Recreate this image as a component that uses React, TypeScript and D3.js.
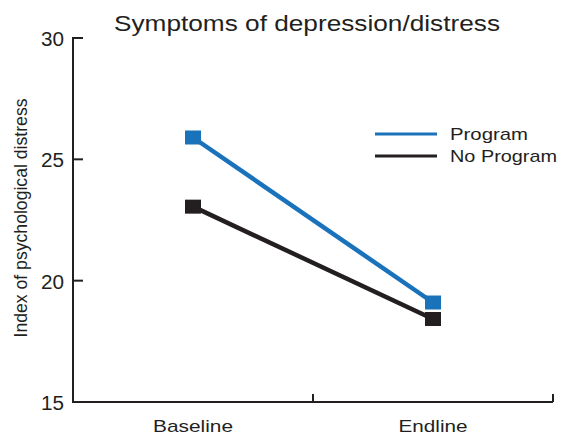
import React from "react";
import * as d3 from "d3";

const PERIODS = ["Baseline", "Endline"];
const PROGRAM = [25.9, 19.1];
const NO_PROGRAM = [23.05, 18.42];
const Y_TICKS = [15, 20, 25, 30];
const SERIES_NAMES = ["Program", "No Program"];
const COLORS = ["#1a72bb", "#231f20"];

const W = 564;
const H = 435;
const FONT = "'Liberation Sans', Arial, sans-serif";

// widths the reference text takes (its glyphs are a bit wider than Liberation)
const X_LABEL_LEN: Record<string, number> = { Baseline: 80, Endline: 69 };
const LEGEND_LEN: Record<string, number> = { Program: 78, "No Program": 107 };

export default function App() {
  const left = 73;
  const right = 553;
  const top = 38;
  const bottom = 402;

  const x = d3.scaleBand<string>().domain(PERIODS).range([left, right]);
  const y = d3.scaleLinear().domain([15, 30]).range([bottom, top]);

  const series = [PROGRAM, NO_PROGRAM];
  const line = d3
    .line<number>()
    .x((_, i) => x(PERIODS[i])! + x.bandwidth() / 2)
    .y((d) => y(d));

  const sqW = 16;
  const sqH = 14;

  return (
    <svg
      width={W}
      height={H}
      style={{ position: "absolute", left: 0, top: 0, background: "#fff" }}
      fontFamily={FONT}
    >
      <text
        x={114}
        y={31}
        fontSize={22}
        textLength={386}
        lengthAdjust="spacingAndGlyphs"
        fill="#231f20"
      >
        Symptoms of depression/distress
      </text>

      {/* y axis */}
      <line x1={left} x2={left} y1={top - 1} y2={bottom + 1} stroke="#231f20" strokeWidth={2} />
      {Y_TICKS.map((t) => (
        <g key={t}>
          <line x1={left} x2={left + 10} y1={y(t)} y2={y(t)} stroke="#231f20" strokeWidth={2} />
          <text
            x={41}
            y={y(t) + 8}
            fontSize={20}
            textLength={23}
            lengthAdjust="spacingAndGlyphs"
            fill="#231f20"
          >
            {t}
          </text>
        </g>
      ))}
      <text
        transform={`translate(27,${218}) rotate(-90)`}
        fontSize={17.5}
        textAnchor="middle"
        textLength={239}
        lengthAdjust="spacingAndGlyphs"
        fill="#231f20"
      >
        Index of psychological distress
      </text>

      {/* x axis */}
      <line x1={left} x2={right} y1={bottom} y2={bottom} stroke="#231f20" strokeWidth={2} />
      {PERIODS.map((p) => (
        <g key={p}>
          <line
            x1={x(p)! + x.bandwidth()}
            x2={x(p)! + x.bandwidth()}
            y1={bottom}
            y2={bottom - 8}
            stroke="#231f20"
            strokeWidth={2}
          />
          <text
            x={x(p)! + x.bandwidth() / 2 - 5 - X_LABEL_LEN[p] / 2 + 5}
            y={432}
            fontSize={17}
            textLength={X_LABEL_LEN[p]}
            lengthAdjust="spacingAndGlyphs"
            fill="#231f20"
          >
            {p}
          </text>
        </g>
      ))}

      {/* series */}
      {series.map((s, si) => (
        <g key={si}>
          <path d={line(s)!} fill="none" stroke={COLORS[si]} strokeWidth={4.5} />
          {s.map((v, i) => (
            <rect
              key={i}
              x={x(PERIODS[i])! + x.bandwidth() / 2 - sqW / 2}
              y={y(v) - sqH / 2}
              width={sqW}
              height={sqH}
              fill={COLORS[si]}
            />
          ))}
        </g>
      ))}

      {/* legend */}
      {SERIES_NAMES.map((n, i) => (
        <g key={n} transform={`translate(375,${134 + i * 22})`}>
          <line x1={0} x2={62} y1={0} y2={0} stroke={COLORS[i]} strokeWidth={3} />
          <text
            x={75}
            y={5.5}
            fontSize={17}
            textLength={LEGEND_LEN[n]}
            lengthAdjust="spacingAndGlyphs"
            fill="#231f20"
          >
            {n}
          </text>
        </g>
      ))}
    </svg>
  );
}
